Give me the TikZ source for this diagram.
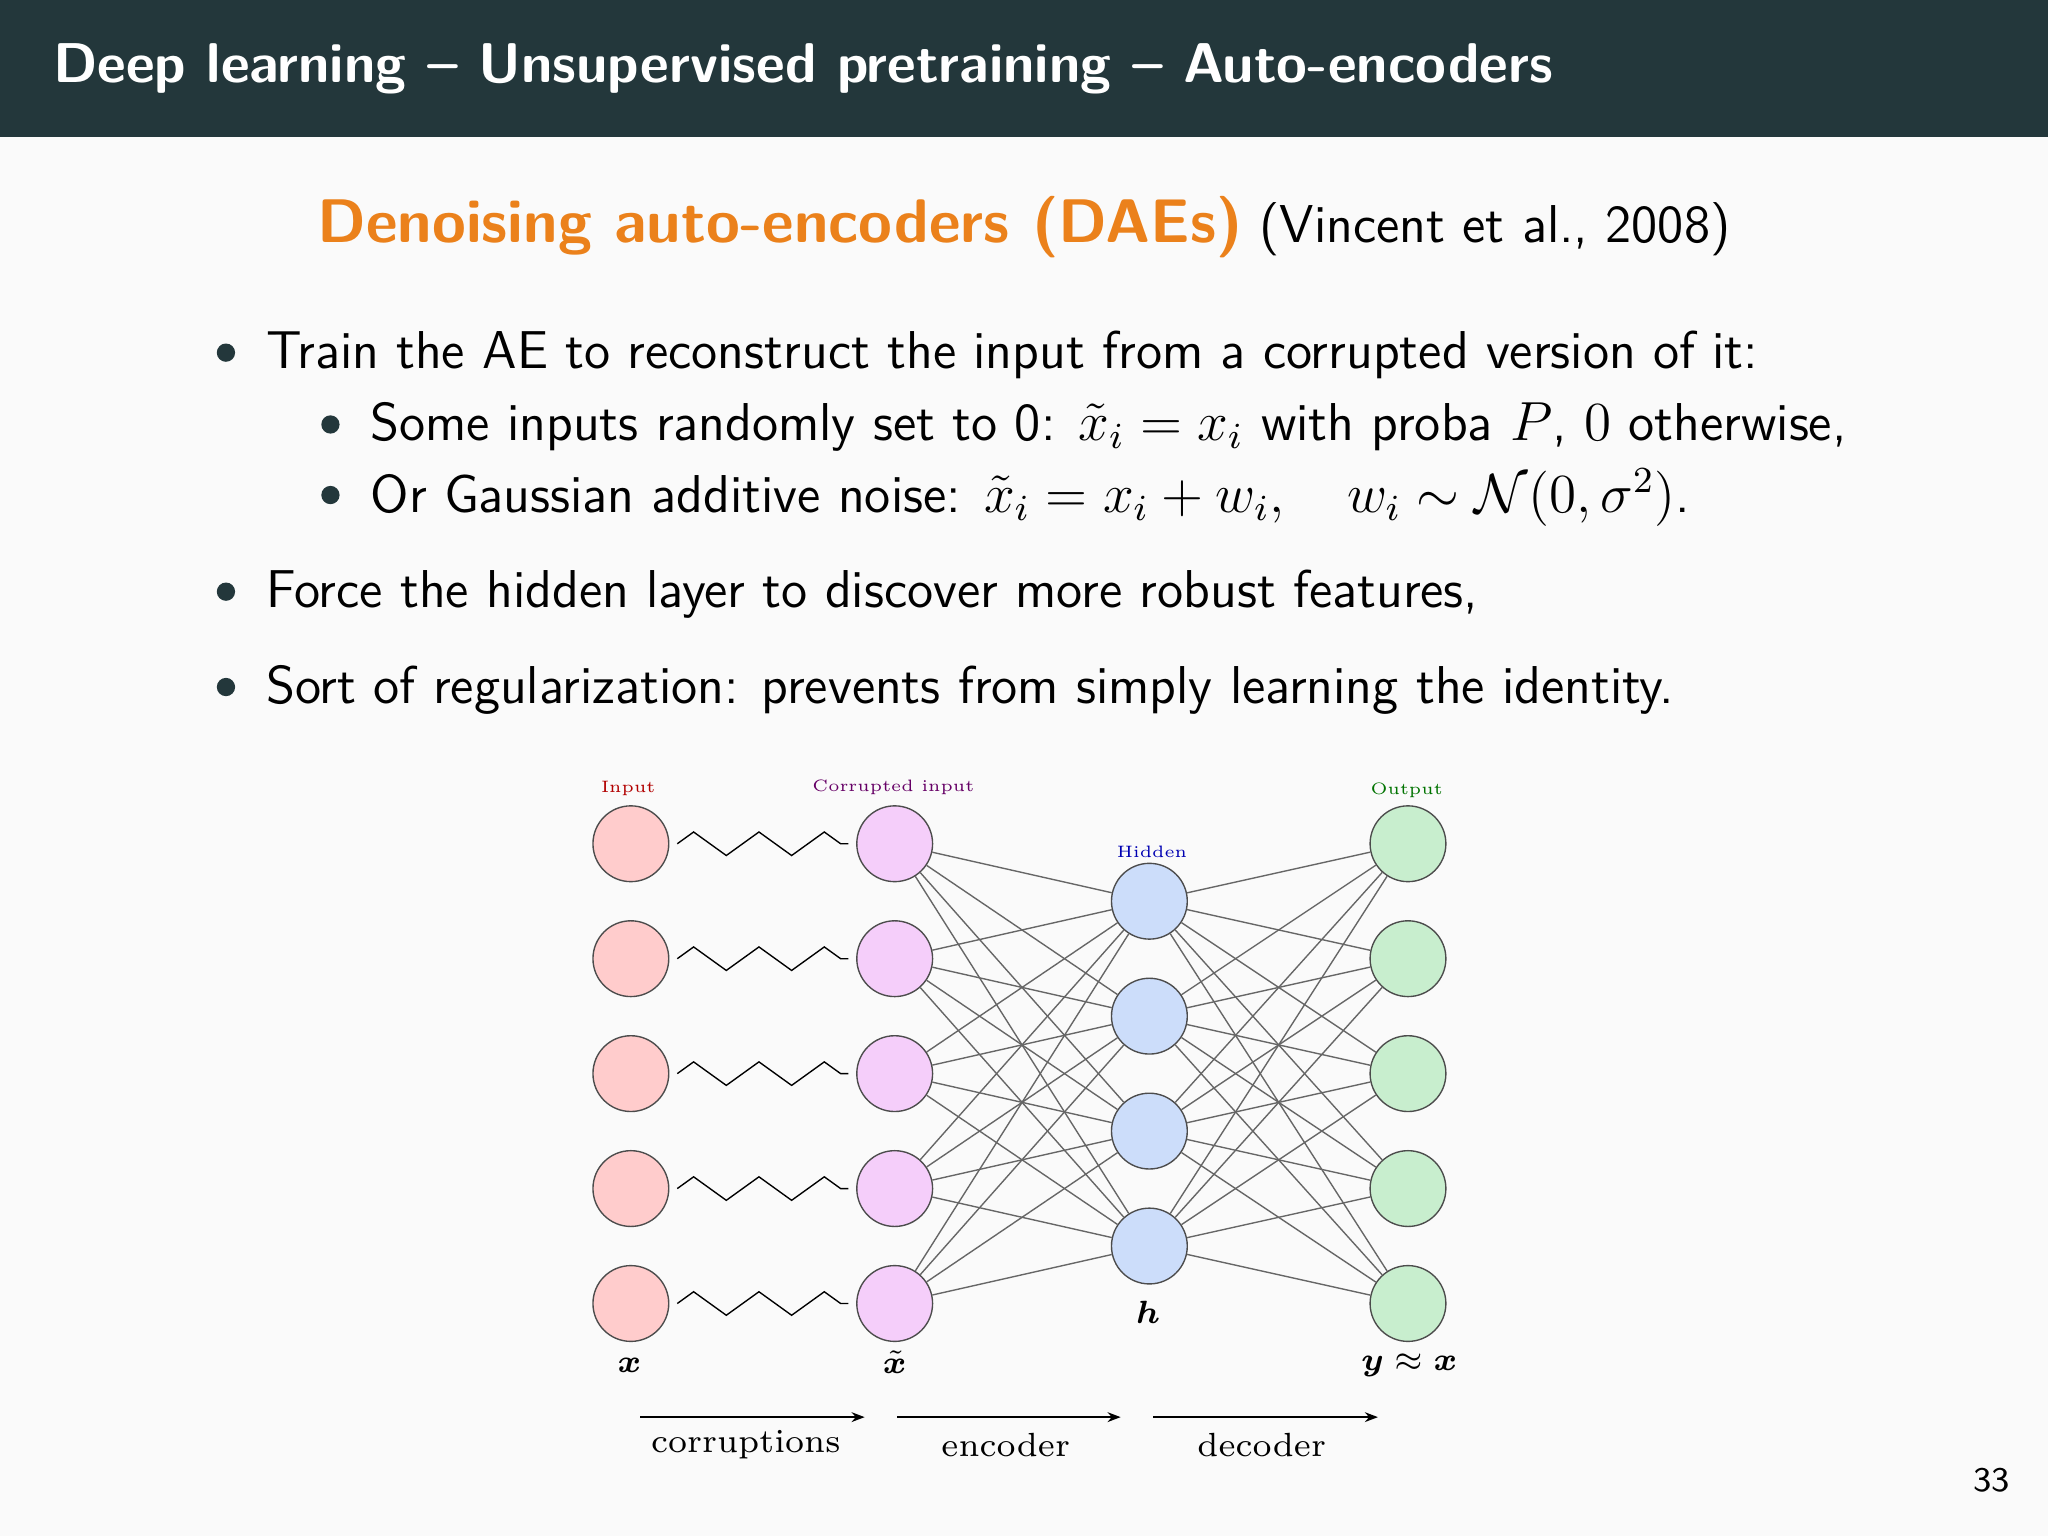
\documentclass[tikz,border=0pt]{standalone}
\usepackage{amsmath,bm}
\usetikzlibrary{decorations.pathmorphing,arrows.meta}
\definecolor{bar}{HTML}{23373B}
\definecolor{orng}{HTML}{EB811B}
\definecolor{bg}{HTML}{FAFAFA}
\definecolor{hid}{RGB}{204,221,250}
\definecolor{cor}{RGB}{245,206,250}
\definecolor{outc}{RGB}{200,238,206}
\begin{document}
\begin{tikzpicture}[x=0.01cm,y=-0.01cm,
  neu/.style={circle,draw=black!70,line width=0.3pt,minimum size=0.58cm,inner sep=0},
  conn/.style={draw=black!60,line width=0.3pt},
  zz/.style={decorate,decoration={zigzag,segment length=0.5cm,amplitude=0.09cm},line width=0.3pt},
  txt/.style={anchor=west,inner sep=0,font=\sffamily\fontsize{11.6}{14}\selectfont},
  bul/.style={circle,fill=bar,inner sep=0,minimum size=0.14cm}]
\fill[bg] (0,0) rectangle (1568,1176);
\useasboundingbox (0,0) rectangle (1568,1176);
\fill[bar] (0,0) rectangle (1568,105);
\node[anchor=west,inner sep=0,text=white,font=\sffamily\bfseries\fontsize{12.2}{15}\selectfont] (title) at (40,53) {Deep learning -- Unsupervised pretraining -- Auto-encoders};
\node[anchor=base,font=\sffamily\fontsize{11.6}{14}\selectfont] (sub) at (784,186) {{\color{orng}\bfseries\fontsize{13.4}{16}\selectfont Denoising auto-encoders (DAEs)} (Vincent et al., 2008)};
\node[txt] (b1) at (203,272) {Train the AE to reconstruct the input from a corrupted version of it:};
\node[txt] (b2) at (283,327) {Some inputs randomly set to 0: $\tilde{x}_i = x_i$ with proba $P$, $0$ otherwise,};
\node[txt] (b3) at (283,381) {Or Gaussian additive noise: $\tilde{x}_i = x_i + w_i, \quad w_i \sim \mathcal{N}(0,\sigma^2)$.};
\node[txt] (b4) at (203,455) {Force the hidden layer to discover more robust features,};
\node[txt] (b5) at (203,528) {Sort of regularization: prevents from simply learning the identity.};
\node[bul] (d1) at (173,270) {};
\node[bul] (d2) at (253,325) {};
\node[bul] (d3) at (253,379) {};
\node[bul] (d4) at (173,453) {};
\node[bul] (d5) at (173,526) {};
\foreach \i/\y in {1/646,2/734,3/822,4/910,5/998}{
  \node[neu,fill=red!20] (in\i) at (483,\y) {};
  \node[neu,fill=cor] (co\i) at (685,\y) {};
  \node[neu,fill=outc] (ou\i) at (1078,\y) {};
  \draw[zz] ([xshift=0.06cm]in\i.east) -- ([xshift=-0.06cm]co\i.west);
}
\foreach \j/\y in {1/690,2/778,3/866,4/954}{
  \node[neu,fill=hid] (hi\j) at (880,\y) {};
}
\foreach \i in {1,...,5}{\foreach \j in {1,...,4}{
  \draw[conn] (co\i) -- (hi\j);
  \draw[conn] (hi\j) -- (ou\i);
}}
\node[text=red!70!black,font=\fontsize{3.6}{4}\selectfont] (lin) at (481,604) {Input};
\node[text=violet!80!black,font=\fontsize{3.6}{4}\selectfont] (lco) at (684,603) {Corrupted input};
\node[text=blue!70!black,font=\fontsize{3.6}{4}\selectfont] (lhi) at (882,652) {Hidden};
\node[text=green!45!black,font=\fontsize{3.6}{4}\selectfont] (lou) at (1077,605) {Output};
\node[font=\fontsize{6.8}{8}\selectfont] (mx) at (482,1045) {$\bm{x}$};
\node[font=\fontsize{6.8}{8}\selectfont] (mxt) at (685,1043) {$\tilde{\bm{x}}$};
\node[font=\fontsize{6.8}{8}\selectfont] (mh) at (879,1005) {$\bm{h}$};
\node[font=\fontsize{6.8}{8}\selectfont] (my) at (1079,1045) {$\bm{y}\approx\bm{x}$};
\coordinate (a1) at (490,1085); \coordinate (a2) at (662,1085);
\coordinate (a3) at (687,1085); \coordinate (a4) at (858,1085);
\coordinate (a5) at (883,1085); \coordinate (a6) at (1055,1085);
\draw[-{Stealth[length=0.1cm]},line width=0.4pt] (a1) -- (a2);
\draw[-{Stealth[length=0.1cm]},line width=0.4pt] (a3) -- (a4);
\draw[-{Stealth[length=0.1cm]},line width=0.4pt] (a5) -- (a6);
\node[font=\fontsize{7.3}{9}\selectfont] (lc) at (571,1106) {corruptions};
\node[font=\fontsize{7.3}{9}\selectfont] (le) at (770,1106) {encoder};
\node[font=\fontsize{7.3}{9}\selectfont] (ld) at (966,1106) {decoder};
\node[font=\sffamily\fontsize{7.5}{9}\selectfont] (pg) at (1525,1133) {33};
\end{tikzpicture}
\end{document}
